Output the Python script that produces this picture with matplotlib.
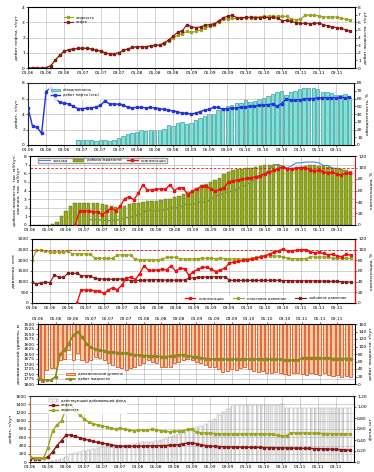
import numpy as np
import matplotlib
matplotlib.use('Agg')
import matplotlib.pyplot as plt

plt.rcParams['font.family'] = ['DejaVu Sans']
plt.rcParams['font.size'] = 3.2
plt.rcParams['hatch.linewidth'] = 0.3

# months 01.06 .. 12.11
months = np.arange(72)
tick_pos = np.arange(0, 72, 4)
tick_labels = ['01.06', '05.06', '09.06', '01.07', '05.07', '09.07', '01.08', '05.08', '09.08',
               '01.09', '05.09', '09.09', '01.10', '05.10', '09.10', '01.11', '05.11', '09.11']

# panel 1
oil_rate = [0, 0, 0, 0, 0.02, 0.15, 0.5, 0.85, 1.1, 1.2, 1.25, 1.28, 1.3, 1.28, 1.25, 1.18, 1.1, 1.0,
            0.92, 0.93, 1.0, 1.15, 1.25, 1.35, 1.4, 1.4, 1.4, 1.45, 1.5, 1.5, 1.65, 1.85, 2.1, 2.35,
            2.45, 2.85, 2.7, 2.65, 2.7, 2.8, 2.85, 2.9, 3.1, 3.3, 3.4, 3.45, 3.3, 3.3, 3.32, 3.33, 3.3,
            3.3, 3.32, 3.3, 3.32, 3.25, 3.1, 3.12, 3.05, 2.98, 2.95, 2.92, 2.9, 2.92, 2.95, 2.85, 2.75,
            2.7, 2.65, 2.6, 2.5, 2.4]
liq_rate = [0, 0, 0, 0, 0.02, 0.15, 0.5, 0.85, 1.1, 1.2, 1.25, 1.28, 1.3, 1.28, 1.25, 1.18, 1.1, 1.0,
            0.92, 0.93, 1.0, 1.15, 1.25, 1.35, 1.4, 1.4, 1.4, 1.45, 1.5, 1.5, 1.6, 1.8, 2.0, 2.15,
            2.25, 2.4, 2.35, 2.4, 2.5, 2.6, 2.75, 2.85, 3.0, 3.2, 3.22, 3.25, 3.25, 3.28, 3.3, 3.3, 3.35,
            3.35, 3.38, 3.38, 3.4, 3.38, 3.38, 3.38, 3.2, 3.18, 3.2, 3.45, 3.47, 3.45, 3.42, 3.35, 3.35,
            3.35, 3.33, 3.28, 3.2, 3.15]

# panel 2
well_rate = [4.8, 2.4, 2.3, 1.5, 6.9, 7.4, 6.1, 5.5, 5.4, 5.3, 5.0, 4.7, 4.7, 4.75, 4.8, 4.9, 5.1, 5.7,
             5.3, 5.3, 5.25, 5.2, 4.85, 4.8, 4.85, 4.85, 4.8, 4.85, 4.8, 4.7, 4.6, 4.5, 4.4, 4.3, 4.1,
             4.1, 4.0, 4.1, 4.3, 4.5, 4.6, 4.9, 4.85, 4.6, 4.7, 4.75, 4.8, 4.85, 4.9, 5.0, 5.05, 5.1,
             5.15, 5.2, 5.3, 5.0, 5.35, 5.9, 5.8, 5.8, 5.85, 5.9, 6.0, 6.0, 6.05, 6.1, 6.1, 6.1, 6.1,
             6.15, 6.1, 6.15]
water_cut = [0, 0, 0, 0, 0, 0, 0, 0, 0, 0, 0, 7, 7, 6, 6, 5, 6, 7, 5, 6, 9, 12, 14, 15, 17, 20, 18,
             19, 19, 20, 21, 26, 24, 29, 30, 27, 28, 32, 35, 38, 40, 40, 45, 47, 50, 52, 54, 54, 58, 56,
             57, 59, 61, 63, 66, 68, 70, 64, 68, 70, 72, 73, 73, 73, 72, 68, 68, 67, 65, 64, 66, 62]

# panel 3 / 4
liq_prod = [0, 0, 0, 0, 0, 0.1, 0.4, 1.0, 1.6, 2.2, 2.5, 2.6, 2.6, 2.6, 2.55, 2.5, 2.45, 2.3, 2.2, 2.1,
            2.0, 2.2, 2.4, 2.5, 2.6, 2.7, 2.8, 2.75, 2.8, 2.9, 3.0, 3.0, 3.2, 3.4, 3.6, 3.8, 4.0, 4.3,
            4.6, 4.8, 5.0, 5.2, 5.5, 5.9, 6.2, 6.4, 6.5, 6.5, 6.6, 6.6, 6.7, 6.8, 6.9, 6.9, 7.0, 7.0,
            6.8, 6.5, 6.6, 6.6, 6.7, 6.8, 6.9, 6.9, 6.8, 6.8, 6.7, 6.6, 6.6, 6.5, 6.4, 6.3]
injection = [np.nan] * 13 + [0.6, 0.6, 0.6, 0.6, 0.5, 0.5, 0.6, 0.6, 0.8, 0.9, 1.0, 1.2, 1.3, 1.8, 1.6,
             1.6, 1.7, 1.8, 1.9, 2.0, 2.0, 2.3, 2.5, 2.3, 2.6, 2.7, 2.6, 3.0, 3.3, 3.5, 3.7, 3.9, 3.9,
             4.2, 4.4, 4.7, 5.0, 5.3, 5.6, 5.8, 6.5, 7.0, 7.0, 6.8, 6.6, 6.9, 7.2, 7.2, 7.3, 7.3, 7.3,
             7.2, 6.9, 6.9, 6.6, 6.5, 6.3, 6.2, 5.9]
compensation = [np.nan] * 10 + [0, 25, 24, 24, 23, 22, 18, 24, 29, 25, 33, 46, 49, 44, 55, 70, 61, 61,
                62, 63, 62, 70, 60, 65, 64, 52, 59, 63, 67, 67, 63, 59, 62, 65, 75, 77, 78, 80, 81, 82,
                84, 86, 89, 92, 95, 98, 101, 97, 98, 99, 100, 100, 96, 94, 95, 93, 90, 92, 88, 87, 91, 90]
res_pressure = [2000, 2470, 2470, 2450, 2400, 2380, 2400, 2380, 2430, 2300, 2310, 2310, 2300, 2290,
                2100, 2100, 2090, 2090, 2090, 2260, 2260, 2250, 2250, 2040, 2030, 2030, 2030, 2030,
                2030, 2040, 2140, 2150, 2140, 2080, 2070, 2060, 2070, 2080, 2090, 2100, 2090, 2080,
                2090, 2080, 2070, 2060, 2060, 2070, 2080, 2100, 2150, 2190, 2210, 2210, 2210, 2200,
                2170, 2090, 2080, 2080, 2080, 2080, 2150, 2160, 2160, 2150, 2150, 2090, 2090, 2090,
                2090, 2090]
bh_pressure = [1000, 880, 960, 970, 960, 1320, 1200, 1200, 1390, 1390, 1390, 1280, 1270, 1280, 1150,
               1140, 1120, 1120, 1110, 1120, 1120, 1120, 1040, 1050, 1060, 1070, 1080, 1090, 1090, 1080,
               1070, 1070, 1070, 1070, 1080, 1160, 1180, 1200, 1210, 1220, 1220, 1230, 1230, 1230, 1070,
               1060, 1060, 1060, 1060, 1060, 1060, 1060, 1060, 1060, 1070, 1060, 1050, 1050, 1050, 1040,
               1040, 1040, 1040, 1040, 1030, 1030, 1020, 1020, 1010, 1000, 990, 980]

# panel 5
dyn_level = [1780, 1788, 1730, 1722, 1722, 1680, 1677, 1630, 1680, 1647, 1680, 1688, 1680, 1663, 1672,
             1680, 1697, 1705, 1713, 1722, 1730, 1722, 1713, 1705, 1697, 1680, 1688, 1697, 1713, 1717,
             1713, 1697, 1688, 1680, 1677, 1680, 1688, 1693, 1705, 1713, 1717, 1727, 1738, 1733, 1727,
             1730, 1722, 1713, 1727, 1733, 1738, 1733, 1743, 1747, 1738, 1743, 1750, 1755, 1747, 1743,
             1750, 1755, 1747, 1750, 1755, 1747, 1755, 1760, 1755, 1763, 1760, 1763]
liq_well = [15, 11, 11, 11, 20, 80, 92, 108, 130, 140, 125, 108, 98, 93, 90, 88, 86, 85, 84, 83, 82, 80,
            78, 77, 76, 75, 74, 74, 73, 73, 74, 76, 77, 78, 76, 73, 72, 70, 68, 67, 66, 66, 66, 66, 66,
            66, 66, 66, 66, 66, 66, 66, 66, 66, 66, 66, 65, 64, 63, 64, 70, 70, 70, 70, 69, 69, 69, 68,
            68, 68, 68, 68]

# panel 6
liq_field = [122, 100, 97, 97, 350, 750, 900, 1000, 1300, 1400, 1250, 1150, 1050, 970, 930, 900, 880,
             850, 820, 800, 820, 800, 780, 760, 770, 775, 780, 790, 785, 760, 740, 735, 740, 750, 760,
             790, 790, 720, 710, 700, 700, 690, 680, 680, 680, 680, 680, 680, 680, 680, 680, 680, 680,
             675, 670, 650, 630, 640, 710, 710, 705, 700, 700, 695, 695, 690, 690, 685, 685, 680, 680, 675]
oil_field = [80, 80, 80, 85, 120, 240, 400, 520, 650, 660, 620, 590, 560, 530, 500, 480, 460, 440, 420,
             400, 385, 380, 380, 380, 385, 385, 390, 390, 395, 395, 400, 405, 410, 420, 440, 460, 470,
             440, 420, 400, 390, 380, 375, 370, 365, 365, 360, 360, 360, 355, 355, 355, 350, 350, 350,
             345, 345, 340, 340, 335, 335, 330, 330, 325, 325, 320, 315, 310, 305, 300, 295, 290]
well_stock = [0, 0, 0, 0, 0, 0.01, 0.03, 0.06, 0.1, 0.14, 0.16, 0.18, 0.2, 0.22, 0.24, 0.26, 0.27, 0.27,
              0.28, 0.3, 0.3, 0.3, 0.31, 0.33, 0.35, 0.37, 0.36, 0.37, 0.39, 0.4, 0.42, 0.45, 0.48, 0.51,
              0.54, 0.57, 0.6, 0.63, 0.66, 0.7, 0.74, 0.79, 0.85, 0.91, 0.97, 1.02, 1.04, 1.04, 1.04,
              1.04, 1.04, 1.04, 1.04, 1.04, 1.04, 1.04, 1.05, 0.99, 0.99, 0.99, 0.99, 0.99, 0.99, 0.99,
              0.99, 0.99, 0.99, 0.99, 0.99, 0.99, 0.99, 0.99]

OLIVE = '#9aa41c'
DRED = '#8b1818'
RED = '#ee1111'
BLUE = '#2233dd'
GRID = '#b0b0b0'

W, H = 374, 472
fig = plt.figure(figsize=(W / 100, H / 100), dpi=100)


def make_axes(x0, x1, y0, y1):
    ax = fig.add_axes([x0 / W, 1 - y1 / H, (x1 - x0) / W, (y1 - y0) / H])
    ax.set_xlim(0, 72)
    ax.set_xticks(tick_pos)
    ax.set_xticklabels(tick_labels)
    ax.grid(True, color=GRID, lw=0.4)
    ax.set_axisbelow(True)
    ax.tick_params(length=1.2, width=0.4, pad=1)
    for s in ax.spines.values():
        s.set_linewidth(0.4)
    ax2 = ax.twinx()
    ax2.tick_params(length=1.2, width=0.4, pad=1)
    return ax, ax2


def line(ax, y, c, ms=1.4, lw=0.8, label=None, z=3):
    return ax.plot(months, y, color=c, lw=lw, marker='s', ms=ms, mec=c, label=label, zorder=z)[0]


# ---- panel 1
ax, ax2 = make_axes(28, 355, 7, 68)
l1 = line(ax, liq_rate, OLIVE, label='жидкость')
l2 = line(ax, oil_rate, DRED, label='нефть')
ax.set_ylim(0, 4)
ax.set_yticks([0, 1, 2, 3, 4])
ax2.set_ylim(0, 8)
ax2.set_yticks(range(9))
ax.set_ylabel('дебит нефти, т/сут', labelpad=2)
ax2.set_ylabel('дебит жидкости, т/сут', labelpad=2)
ax.legend(loc='upper left', bbox_to_anchor=(0.1, 0.92), frameon=False, fontsize=2.6,
          handlelength=2.5, labelspacing=0.3)

# ---- panel 2
ax, ax2 = make_axes(28, 354, 83, 145)
ax2.bar(months, water_cut, width=0.75, color='#7fe3dc', edgecolor='#138a86', lw=0.4, label='обводненность')
ax2.set_ylim(0, 80)
ax2.set_yticks(range(0, 81, 10))
ax.set_zorder(ax2.get_zorder() + 1)
ax.patch.set_visible(False)
ax2.grid(False)
line(ax, well_rate, BLUE, ms=1.6, lw=1.0, label='дебит нефти (скв.)')
ax.set_ylim(0, 8)
ax.set_yticks([0, 2, 4, 6, 8])
ax.set_ylabel('дебит, т/сут', labelpad=2)
ax2.set_ylabel('обводненность, %', labelpad=2)
h1, lb1 = ax2.get_legend_handles_labels()
h2, lb2 = ax.get_legend_handles_labels()
ax.legend(h1 + h2, lb1 + lb2, loc='upper left', bbox_to_anchor=(0.06, 0.97), fontsize=2.6,
          frameon=True, fancybox=False, edgecolor='white', handlelength=2.5, labelspacing=0.3)

# ---- panel 3
ax, ax2 = make_axes(30, 355, 156, 225)
ax.plot(months, injection, color='#4d7fe6', lw=0.8, zorder=2, label='закачка')
ax.bar(months, liq_prod, width=0.75, color='#93a81d', edgecolor='#5e6d10', lw=0.3, zorder=3,
       label='добыча жидкости')
ax.set_ylim(0, 8)
ax.set_yticks(range(9))
ax2.set_ylim(0, 120)
ax2.set_yticks(range(0, 121, 20))
ax2.axhline(100, color=RED, lw=0.6, ls=(0, (3, 2)))
line(ax2, compensation, RED, ms=1.5, lw=1.0, label='компенсация')
ax.set_ylabel('добыча жидкости, тыс. м3/сут;\nзакачка, тыс. м3/сут', labelpad=2)
ax2.set_ylabel('компенсация, %', labelpad=2)
ax2.spines['right'].set_color(RED)
h1, lb1 = ax.get_legend_handles_labels()
h2, lb2 = ax2.get_legend_handles_labels()
ax2.legend(h1 + h2, lb1 + lb2, loc='upper left', bbox_to_anchor=(0.02, 1.0), ncol=3, fontsize=2.6,
           frameon=True, fancybox=False, edgecolor='#888888', handlelength=3, columnspacing=1.5,
           borderpad=0.2)

# ---- panel 4
ax, ax2 = make_axes(32, 355, 239, 303)
line(ax, res_pressure, OLIVE, label='пластовое давление')
line(ax, bh_pressure, DRED, label='забойное давление')
ax.set_ylim(0, 3000)
ax.set_yticks(range(0, 3001, 500))
ax2.set_ylim(0, 120)
ax2.set_yticks(range(0, 121, 20))
ax2.axhline(100, color=RED, lw=0.6, ls=(0, (3, 2)))
line(ax2, compensation, RED, ms=1.5, lw=1.0, label='компенсация')
ax2.spines['right'].set_color(RED)
ax2.spines['right'].set_linewidth(1.0)
ax.set_ylabel('давление, атм', labelpad=2)
ax2.set_ylabel('компенсация, %', labelpad=2)
h1, lb1 = ax.get_legend_handles_labels()
h2, lb2 = ax2.get_legend_handles_labels()
ax2.legend(h2 + h1, lb2 + lb1, loc='lower right', bbox_to_anchor=(0.98, 0.0), ncol=3, fontsize=2.6,
           frameon=True, fancybox=False, edgecolor='white', handlelength=3, columnspacing=2.5,
           borderpad=0.2)

# ---- panel 5
ax, ax2 = make_axes(38, 355, 324, 384)
ax.xaxis.tick_top()
ax.set_ylim(1800, 1500)
ax.set_yticks(range(1500, 1801, 25))
ax.bar(months, np.array(dyn_level) - 1500, bottom=1500, width=0.7, color='#f8c898', edgecolor='#d43c14',
       lw=0.5, label='динамический уровень')
ax2.set_ylim(0, 160)
ax2.set_yticks(range(0, 161, 20))
line(ax2, liq_well, '#8c8a1c', ms=1.8, lw=1.2, label='дебит жидкости')
ax.set_ylabel('динамический уровень, м', labelpad=2)
ax2.set_ylabel('дебит жидкости, т/сут', labelpad=2)
h1, lb1 = ax.get_legend_handles_labels()
h2, lb2 = ax2.get_legend_handles_labels()
ax2.legend(h1 + h2, lb1 + lb2, loc='lower left', bbox_to_anchor=(0.08, 0.0), fontsize=2.6,
           frameon=True, fancybox=False, edgecolor='white', handlelength=2.5, labelspacing=0.3,
           borderpad=0.2)

# ---- panel 6
ax, ax2 = make_axes(30, 354, 396, 462)
ax2.bar(months, well_stock, width=0.75, color='white', edgecolor='#999999', hatch='||||', lw=0.3,
        label='действующий добывающий фонд')
ax2.set_ylim(0, 1.2)
ax2.set_yticks(np.arange(0, 1.21, 0.2))
ax2.set_yticklabels(['0', '0,20', '0,40', '0,60', '0,80', '1,00', '1,20'])
ax.set_zorder(ax2.get_zorder() + 1)
ax.patch.set_visible(False)
line(ax, oil_field, DRED, ms=1.6, lw=1.0, label='нефть')
line(ax, liq_field, OLIVE, ms=1.6, lw=1.0, label='жидкость')
ax.set_ylim(0, 1600)
ax.set_yticks(range(0, 1601, 200))
ax.spines['left'].set_color('#e07020')
ax.set_ylabel('дебит, т/сут', labelpad=2)
ax2.set_ylabel('фонд, шт', labelpad=2)
h1, lb1 = ax2.get_legend_handles_labels()
h2, lb2 = ax.get_legend_handles_labels()
ax.legend(h1 + h2, lb1 + lb2, loc='upper left', bbox_to_anchor=(0.05, 1.0), fontsize=2.6,
          frameon=True, fancybox=False, edgecolor='white', handlelength=2.5, labelspacing=0.2,
          borderpad=0.2)

fig.savefig('out.png', dpi=100)
